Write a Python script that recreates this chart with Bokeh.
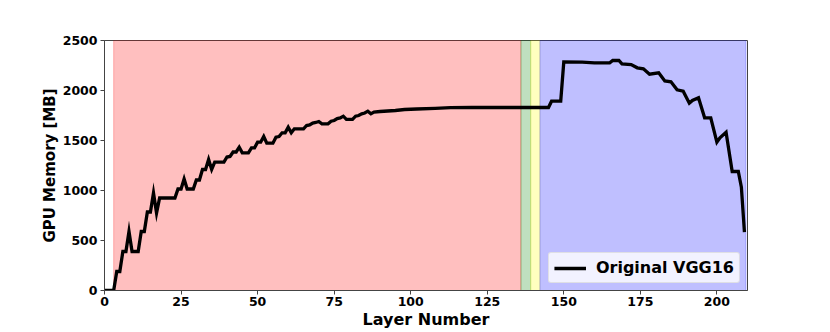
from bokeh.plotting import figure
from bokeh.models import Range1d, FixedTicker, Legend, LegendItem
from bokeh.embed import file_html
from bokeh.resources import INLINE

# ---- data ----
layer_x = [0, 3, 4, 5, 6, 7, 8, 9, 11, 12, 13, 14, 15, 16, 17, 18, 23, 24, 25, 26, 27, 29,
           30, 31, 32, 33, 34, 35, 36, 39, 40, 41, 42, 43, 44, 45, 47, 48, 49, 50, 51, 52,
           53, 55, 56, 57, 58, 59, 60, 61, 62, 65, 66, 67, 68, 69, 70, 71, 73, 74, 75, 76,
           77, 78, 79, 81, 82, 83, 84, 85, 86, 87, 88, 90, 95, 98, 102, 108, 113, 120, 145,
           146, 149, 150, 156, 160, 165, 166, 168, 169, 172, 174, 176, 178, 181, 183, 185,
           187, 189, 191, 192, 194, 196, 198, 200, 201, 203, 205, 207, 208, 209]
memory_mb = [0, 0, 190, 190, 390, 390, 590, 390, 390, 590, 590, 785, 785, 975, 775, 925, 925,
             1015, 1015, 1115, 1015, 1015, 1105, 1105, 1210, 1210, 1310, 1210, 1283, 1283,
             1335, 1340, 1385, 1385, 1433, 1377, 1377, 1427, 1427, 1483, 1483, 1540, 1473,
             1473, 1533, 1540, 1577, 1577, 1633, 1577, 1617, 1617, 1650, 1655, 1675, 1680,
             1690, 1667, 1667, 1693, 1700, 1720, 1725, 1743, 1712, 1712, 1743, 1750, 1767,
             1775, 1793, 1767, 1785, 1790, 1800, 1810, 1815, 1822, 1828, 1830, 1830, 1893,
             1893, 2285, 2283, 2277, 2277, 2300, 2300, 2267, 2260, 2227, 2217, 2163, 2177,
             2095, 2087, 2007, 1993, 1873, 1900, 1927, 1727, 1727, 1483, 1527, 1583, 1190,
             1190, 1033, 583]

region_start = [3, 136, 139.2, 142.2]
region_end = [136, 139.2, 142.2, 209.5]
region_color = ["red", "green", "yellow", "blue"]

x_ticks = [0, 25, 50, 75, 100, 125, 150, 175, 200]
y_ticks = [0, 500, 1000, 1500, 2000, 2500]
x_limits = (0, 210)
y_limits = (0, 2500)

FONT = "DejaVu Sans"

p = figure(width=830, height=332, output_backend="svg", toolbar_location=None,
           x_range=Range1d(*x_limits), y_range=Range1d(*y_limits),
           min_border_left=104, min_border_right=83, min_border_top=40, min_border_bottom=42)

p.quad(left=region_start, right=region_end, bottom=[y_limits[0]] * 4, top=[y_limits[1]] * 4,
       fill_color=region_color, fill_alpha=0.25, line_color=region_color, line_alpha=0.25,
       line_width=1)

ln = p.line(layer_x, memory_mb, line_color="black", line_width=3.3, line_join="miter")

p.xgrid.visible = False
p.ygrid.visible = False
p.outline_line_color = "#444444"
p.outline_line_width = 1
p.background_fill_color = "white"

p.xaxis.ticker = FixedTicker(ticks=x_ticks)
p.yaxis.ticker = FixedTicker(ticks=y_ticks)
for ax in (p.xaxis[0], p.yaxis[0]):
    ax.minor_tick_line_color = None
    ax.major_tick_in = 0
    ax.major_tick_out = 4
    ax.axis_line_color = "#444444"
    ax.major_tick_line_color = "#444444"
    ax.major_label_text_font = FONT
    ax.major_label_text_font_style = "bold"
    ax.major_label_text_font_size = "12.5px"
    ax.major_label_text_color = "black"
    ax.axis_label_text_font = FONT
    ax.axis_label_text_font_style = "bold"
    ax.axis_label_text_color = "black"

p.xaxis.axis_label = "Layer Number"
p.yaxis.axis_label = "GPU Memory [MB]"
p.xaxis.axis_label_text_font_size = "16px"
p.yaxis.axis_label_text_font_size = "15px"
p.xaxis.major_label_standoff = 2
p.xaxis.axis_label_standoff = 1
p.yaxis.major_label_standoff = 3
p.yaxis.axis_label_standoff = 1

legend = Legend(items=[LegendItem(label="Original VGG16", renderers=[ln])],
                location="bottom_right", margin=7, padding=5, spacing=0,
                glyph_width=32, glyph_height=18, label_standoff=10,
                label_text_font=FONT, label_text_font_style="bold",
                label_text_font_size="16px", label_text_color="black",
                background_fill_color="white", background_fill_alpha=0.8,
                border_line_color="#cccccc", border_line_width=1,
                border_radius=3)
p.add_layout(legend)

open("out.html", "w").write(file_html(p, INLINE))
